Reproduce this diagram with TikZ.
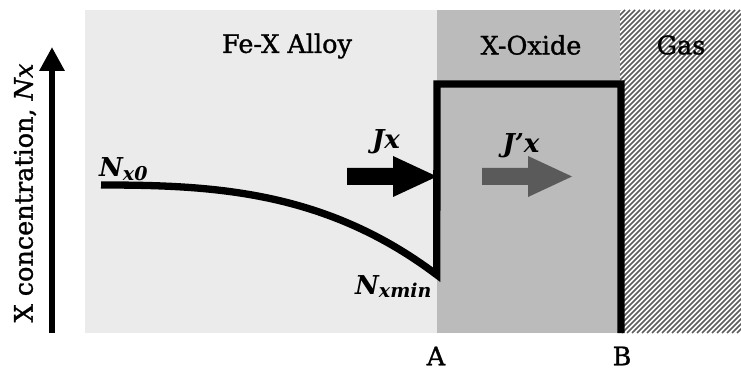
\documentclass[tikz,border=0pt]{standalone}
\usepackage{fontspec}
\setmainfont{DejaVu Serif}
\newfontfamily\heavyserif[FakeBold=1.2]{DejaVu Serif}
\usetikzlibrary{arrows.meta}
\definecolor{alloy}{HTML}{EBEBEB}
\definecolor{oxide}{HTML}{BBBBBB}
\definecolor{fluxgray}{HTML}{5A5A5A}
\definecolor{hatchgray}{HTML}{5C5C5C}
\tikzset{
  lbl/.style={inner sep=0pt, font=\heavyserif\fontsize{25.5}{28}\selectfont},
  symlbl/.style={inner sep=0pt, font=\fontsize{26}{28}\selectfont\bfseries\itshape},
  profile/.style={line width=7.3pt, line join=miter, line cap=butt},
}
\newcommand{\subtxt}[1]{\raisebox{-3.5pt}{\fontsize{19}{19}\selectfont #1}}
\begin{document}
\begin{tikzpicture}[x=1pt,y=1pt]
\useasboundingbox (0,0) rectangle (741,-374);
% regions
\fill[alloy] (85,-10) rectangle (437,-333);
\fill[oxide] (437,-10) rectangle (620,-333);
\fill[white] (620,-10) rectangle (741,-333);
\begin{scope}
  \clip (620,-10) rectangle (741,-333);
  \foreach \i in {0,5,...,450} {
    \draw[hatchgray, line width=1.7pt] ({297+\i},-333) -- ({297+\i+323},-10);
  }
\end{scope}
% axis
\coordinate (axbot) at (52,-333);
\coordinate (axtop) at (52,-47);
\draw[line width=6pt, -{Triangle[width=24pt,length=24pt]}] (axbot) -- (axtop);
\node[lbl, rotate=90] (ylbl) at (25,-193) {X concentration, \textit{Nx}};
% region labels
\node[lbl] (alloylbl) at (287,-46) {Fe-X Alloy};
\node[lbl] (oxidelbl) at (531,-45) {X-Oxide};
\node[lbl] (gaslbl) at (681,-45) {Gas};
\node[lbl] (A) at (436,-356) {A};
\node[lbl] (B) at (622,-356) {B};
% concentration profile
\draw[profile] plot[domain=0:1, samples=60] ({101+336*\x},{-(185+90*(0.18*\x*\x+0.82*\x*\x*\x))})
  -- (437,-84) -- (621,-84) -- (621,-333);
% fluxes
\fill[black] (347,-168) -- (393,-168) -- (393,-156) -- (437,-176.5) -- (393,-197) -- (393,-185) -- (347,-185) -- cycle;
\fill[fluxgray] (482,-168) -- (528,-168) -- (528,-156) -- (572,-176.5) -- (528,-197) -- (528,-185) -- (482,-185) -- cycle;
% symbol labels
\node[symlbl] (jx) at (386,-142) {Jx};
\node[symlbl] (jpx) at (521,-146) {J’x};
\node[symlbl, anchor=base west] (nx0) at (99,-177) {N\subtxt{x0}};
\node[symlbl, anchor=base west] (nxmin) at (355,-294) {N\subtxt{xmin}};
\end{tikzpicture}
\end{document}
